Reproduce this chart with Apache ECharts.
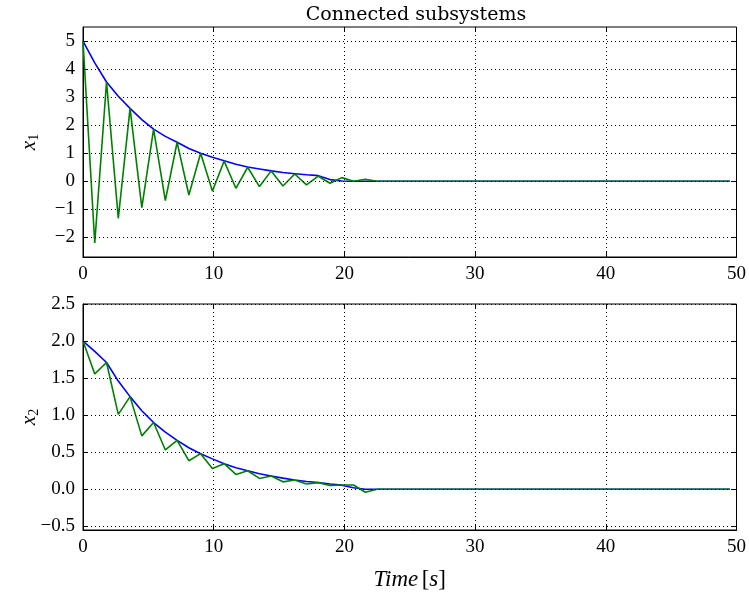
<!DOCTYPE html>
<html>
<head>
<meta charset="utf-8">
<script src="https://cdn.jsdelivr.net/npm/echarts@6/dist/echarts.min.js"></script>
<style>
  html, body { margin: 0; padding: 0; background: #fff; }
  #chart { width: 749px; height: 592px; }
</style>
</head>
<body>
<div id="chart"></div>
<script>
// sample times [s]
var time = [0, 0.9, 1.8, 2.7, 3.6, 4.5, 5.4, 6.3, 7.2, 8.1, 9.0, 9.9, 10.8, 11.7, 12.6,
  13.5, 14.4, 15.3, 16.2, 17.1, 18.0, 18.9, 19.8, 20.7, 21.6, 22.5, 49.5]

// x1 (top)
var x1Blue = [5.0, 4.22, 3.54, 3.03, 2.6, 2.2, 1.86, 1.6, 1.39, 1.17, 1.0, 0.86, 0.73, 0.61, 0.51,
  0.44, 0.37, 0.31, 0.27, 0.23, 0.2, 0.06, 0.01, 0, 0, 0, 0]
var x1Green = [5.0, -2.2, 3.54, -1.32, 2.6, -0.94, 1.86, -0.69, 1.39, -0.49, 1.0, -0.35, 0.72, -0.25, 0.5,
  -0.19, 0.37, -0.17, 0.26, -0.13, 0.18, -0.07, 0.13, 0.0, 0.07, 0, 0]

// x2 (bottom)
var x2Blue = [2.0, 1.86, 1.71, 1.46, 1.25, 1.06, 0.90, 0.77, 0.66, 0.56, 0.48, 0.41, 0.345, 0.29, 0.25,
  0.21, 0.178, 0.15, 0.125, 0.105, 0.09, 0.07, 0.055, 0.02, 0, 0, 0]
var x2Green = [2.0, 1.556, 1.71, 1.01, 1.25, 0.72, 0.90, 0.53, 0.66, 0.385, 0.48, 0.28, 0.345, 0.20, 0.25,
  0.146, 0.178, 0.10, 0.125, 0.07, 0.089, 0.05, 0.058, 0.058, -0.04, 0, 0]

var xTicks = [0, 10, 20, 30, 40, 50]
var y1Ticks = [-2, -1, 0, 1, 2, 3, 4, 5]
var y2Ticks = [-0.5, 0.0, 0.5, 1.0, 1.5, 2.0, 2.5]

var font = 'Liberation Serif'

function pairs(ys) {
  return time.map(function (t, i) { return [t, ys[i]] })
}
function minus(s) {
  return String(s).replace('-', '\u2212')
}

var chart = echarts.init(document.getElementById('chart'))

function xAx(grid, showLabel) {
  return {
    type: 'value', gridIndex: grid, min: 0, max: 50, interval: 10,
    axisLine: { show: true, onZero: false, lineStyle: { color: '#000', width: 1 } },
    axisTick: { inside: true, length: 5, customValues: xTicks, lineStyle: { color: '#000' } },
    axisLabel: { show: showLabel, customValues: xTicks, color: '#000', fontFamily: font, fontSize: 19, margin: 8 },
    splitLine: { show: true, lineStyle: { color: '#000', type: [1, 3], width: 1 } }
  }
}
function xTop(grid) {
  return {
    type: 'value', gridIndex: grid, position: 'top', min: 0, max: 50, interval: 10,
    axisLine: { show: false, onZero: false },
    axisTick: { inside: true, length: 5, lineStyle: { color: '#000' } },
    axisLabel: { show: false }, splitLine: { show: false }
  }
}
function yAx(grid, min, max, ticks, fmt, name) {
  return {
    type: 'value', gridIndex: grid, min: min, max: max,
    axisLine: { show: true, onZero: false, lineStyle: { color: '#000', width: 1 } },
    axisTick: { inside: true, length: 5, customValues: ticks, lineStyle: { color: '#000' } },
    axisLabel: {
      customValues: ticks, color: '#000', fontFamily: font, fontSize: 19, margin: 8,
      formatter: function (v) { return minus(fmt(v)) }
    },
    splitLine: { show: false },
    name: name, nameLocation: 'middle', nameGap: 42, nameRotate: 90, nameMoveOverlap: false,
    nameTextStyle: {
      rich: {
        i: { fontFamily: font, fontStyle: 'italic', fontSize: 21, color: '#000' },
        s: { fontFamily: font, fontSize: 14, color: '#000', padding: [10, 0, 0, 0] }
      }
    }
  }
}
function yRight(grid, min, max, ticks) {
  return {
    type: 'value', gridIndex: grid, position: 'right', min: min, max: max,
    axisLine: { show: false, onZero: false },
    axisTick: { inside: true, length: 5, customValues: ticks, lineStyle: { color: '#000' } },
    axisLabel: { show: false }, splitLine: { show: false }
  }
}

// dotted grid lines on y, drawn through the y scale as markLines
function yGrid(ticks) {
  return {
    silent: true, symbol: 'none', label: { show: false },
    lineStyle: { color: '#000', type: [1, 3], width: 1 },
    data: ticks.map(function (v) { return { yAxis: v } })
  }
}

function line(name, x, y, ys, color, mark) {
  var s = {
    name: name, type: 'line', xAxisIndex: x, yAxisIndex: y,
    data: pairs(ys), showSymbol: false, animation: false,
    lineStyle: { color: color, width: 1.6 }, itemStyle: { color: color }
  }
  if (mark) s.markLine = mark
  return s
}

chart.setOption({
  animation: false,
  title: {
    text: 'Connected subsystems', left: 411, top: 1, textAlign: 'center',
    textStyle: { fontFamily: 'DejaVu Serif', fontSize: 19, fontWeight: 'normal', color: '#000' }
  },
  grid: [
    { left: 83, right: 10, top: 27, height: 230, show: true, borderColor: '#000', borderWidth: 1 },
    { left: 83, right: 10, top: 304, height: 230, show: true, borderColor: '#000', borderWidth: 1 }
  ],
  xAxis: [
    xAx(0, true),
    Object.assign(xAx(1, true), {
      name: '{i|Time} {r|[}{i|s}{r|]}', nameLocation: 'middle', nameGap: 38, nameMoveOverlap: false,
      nameTextStyle: {
        rich: {
          i: { fontFamily: font, fontStyle: 'italic', fontSize: 23, color: '#000' },
          r: { fontFamily: font, fontSize: 23, color: '#000' }
        }
      }
    }),
    xTop(0), xTop(1)
  ],
  yAxis: [
    yAx(0, -2.7, 5.5, y1Ticks, function (v) { return String(v) }, '{i|x}{s|1}'),
    yAx(1, -0.55, 2.5, y2Ticks, function (v) { return v.toFixed(1) }, '{i|x}{s|2}'),
    yRight(0, -2.7, 5.5, y1Ticks),
    yRight(1, -0.55, 2.5, y2Ticks)
  ],
  series: [
    line('x1 bound', 0, 0, x1Blue, '#0000ff', yGrid(y1Ticks)),
    line('x1', 0, 0, x1Green, '#008000'),
    line('x2 bound', 1, 1, x2Blue, '#0000ff', yGrid(y2Ticks)),
    line('x2', 1, 1, x2Green, '#008000')
  ]
})
</script>
</body>
</html>
